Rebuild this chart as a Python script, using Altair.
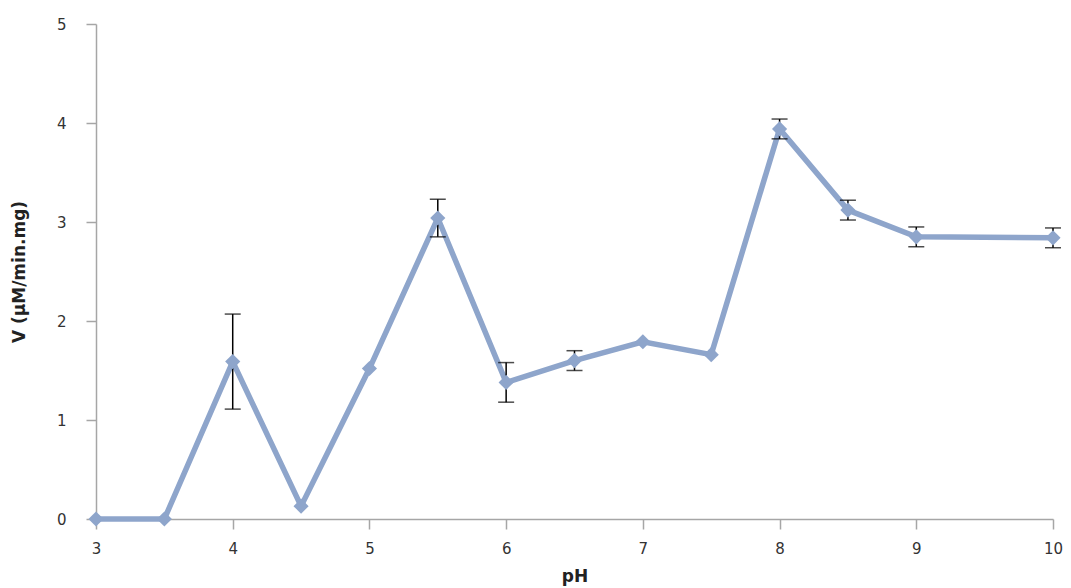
import altair as alt
import pandas as pd

ph = [3, 3.5, 4, 4.5, 5, 5.5, 6, 6.5, 7, 7.5, 8, 8.5, 9, 10]
v = [0.0, 0.0, 1.59, 0.13, 1.52, 3.04, 1.38, 1.6, 1.79, 1.66, 3.94, 3.12, 2.85, 2.84]
err = [0, 0, 0.48, 0, 0, 0.19, 0.2, 0.1, 0, 0, 0.1, 0.1, 0.1, 0.1]

df = pd.DataFrame({"pH": ph, "V": v, "err": err})
df["lo"] = df["V"] - df["err"]
df["hi"] = df["V"] + df["err"]
eb = df[df["err"] > 0]

LINE = "#8EA5CB"
FONT = "DejaVu Sans"

xscale = alt.Scale(domain=[3, 10], nice=False, zero=False)
yscale = alt.Scale(domain=[0, 5], nice=False)

xaxis = alt.Axis(values=list(range(3, 11)), format="d", title="pH", grid=False, tickSize=10,
                 labelPadding=12, titlePadding=12, labelFlush=False)
yaxis = alt.Axis(values=[0, 1, 2, 3, 4, 5], format="d", title="V (µM/min.mg)", grid=False,
                 tickSize=10, labelPadding=20, titlePadding=28, labelFlush=False)

base = alt.Chart(df)
line = base.mark_line(color=LINE, strokeWidth=5.5).encode(
    x=alt.X("pH:Q", scale=xscale, axis=xaxis),
    y=alt.Y("V:Q", scale=yscale, axis=yaxis),
)
pts = base.mark_point(shape="diamond", filled=True, color=LINE, size=230, opacity=1).encode(
    x="pH:Q", y="V:Q"
)
ebase = alt.Chart(eb)
rules = ebase.mark_rule(color="black", strokeWidth=1.5).encode(
    x="pH:Q", y="lo:Q", y2="hi:Q"
)
cap_hi = ebase.mark_tick(color="black", orient="horizontal", size=16, thickness=1.5).encode(
    x="pH:Q", y="hi:Q"
)
cap_lo = ebase.mark_tick(color="black", orient="horizontal", size=16, thickness=1.5).encode(
    x="pH:Q", y="lo:Q"
)

chart = alt.layer(line, rules, cap_hi, cap_lo, pts).properties(
    width=957, height=495,
    autosize=alt.AutoSizeParams(type="none"),
    padding={"left": 96, "top": 24, "right": 18, "bottom": 69},
).configure_view(stroke=None).configure_axis(
    domainColor="#A6A6A6", tickColor="#A6A6A6", domainWidth=1.5, tickWidth=1.5,
    labelFont=FONT, titleFont=FONT, labelFontSize=15, labelColor="#333333",
    titleFontSize=17, titleFontWeight="bold", titleColor="#222222",
)

chart.save("out.html", embed_options={"renderer": "svg", "actions": False})
